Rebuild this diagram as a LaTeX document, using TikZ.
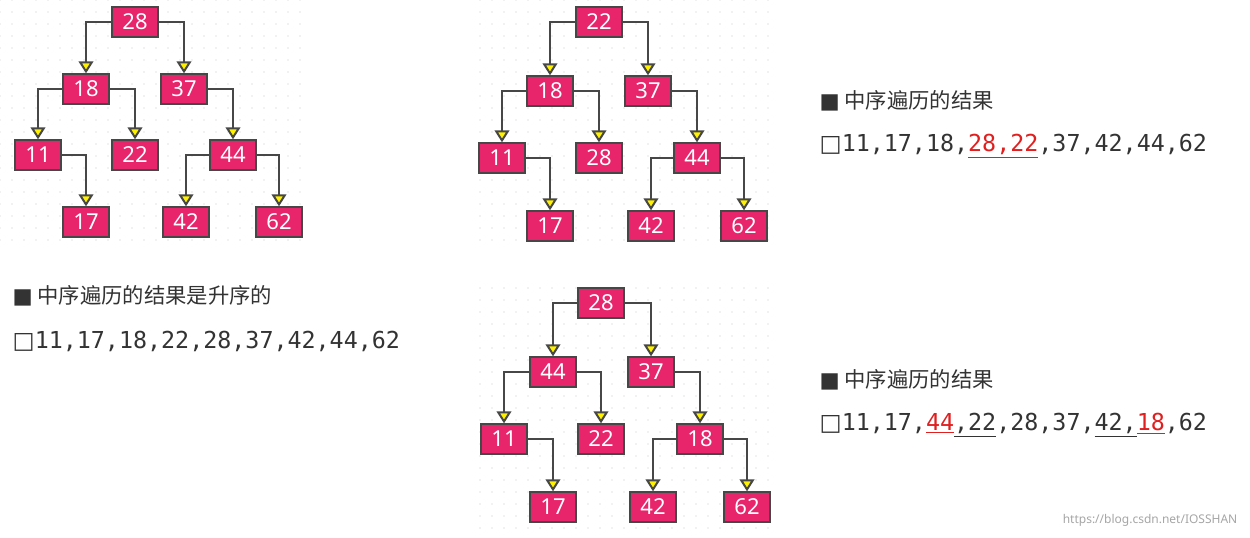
\documentclass[tikz,border=0pt]{standalone}
\usepackage{fontspec}
\setmainfont{Noto Sans}
\setmonofont{DejaVu Sans Mono}
\newfontfamily\cjk{Noto Sans CJK SC}
\usetikzlibrary{arrows.meta}
\definecolor{boxc}{HTML}{E8246A}
\definecolor{txtc}{HTML}{333333}
\definecolor{redc}{HTML}{E02020}
\newcommand\ulc[2]{\textcolor{#1}{\underline{#2}}}
\tikzset{
  bx/.style={draw=txtc!90, line width=1.5pt, fill=boxc, text=white, minimum width=34.5pt, minimum height=22pt, inner sep=0pt, font=\fontsize{16.5}{16.5}\selectfont},
  ed/.style={draw=txtc!90, line width=1.5pt, -{Triangle[fill=yellow, width=11pt, length=9pt]}},
  hd/.style={anchor=west, text=txtc, font=\cjk\fontsize{16}{18}\selectfont},
  sq/.style={anchor=west, text=txtc, font=\ttfamily\fontsize{17.5}{18}\selectfont},
}
\newcommand\dotgrid[4]{\foreach \xx in {#1,...,#2} \foreach \yy in {#3,...,#4} \fill[black!22] (\xx*12,\yy*12) circle (0.5pt);}
\newcommand\osq{{\fontspec{DejaVu Sans}\bfseries □}}
\begin{document}
\begin{tikzpicture}[x=0.75pt,y=-0.75pt]
\useasboundingbox (0,0) rectangle (1250,538);
\fill[white] (0,0) rectangle (1250,538);
\dotgrid{0}{25}{0}{20}
\dotgrid{40}{64}{0}{20}
\dotgrid{40}{64}{24}{44}
% tree 1
\node[bx] (a28) at (135,22) {28};
\node[bx] (a18) at (86,89) {18};
\node[bx] (a37) at (184,89) {37};
\node[bx] (a11) at (38,155) {11};
\node[bx] (a22) at (135,155) {22};
\node[bx] (a44) at (233,155) {44};
\node[bx] (a17) at (86,222) {17};
\node[bx] (a42) at (186,222) {42};
\node[bx] (a62) at (279,222) {62};
\foreach \p/\c in {a28/a18,a18/a11,a44/a42}{\draw[ed] (\p.west) -| (\c.north);}
\foreach \p/\c in {a28/a37,a18/a22,a11/a17,a37/a44,a44/a62}{\draw[ed] (\p.east) -| (\c.north);}
% tree 2
\node[bx] (b22) at (599,22) {22};
\node[bx] (b18) at (550,91) {18};
\node[bx] (b37) at (648,91) {37};
\node[bx] (b11) at (502,158) {11};
\node[bx] (b28) at (599,158) {28};
\node[bx] (b44) at (697,158) {44};
\node[bx] (b17) at (550,226) {17};
\node[bx] (b42) at (651,226) {42};
\node[bx] (b62) at (744,226) {62};
\foreach \p/\c in {b22/b18,b18/b11,b44/b42}{\draw[ed] (\p.west) -| (\c.north);}
\foreach \p/\c in {b22/b37,b18/b28,b11/b17,b37/b44,b44/b62}{\draw[ed] (\p.east) -| (\c.north);}
% tree 3
\node[bx] (c28) at (601,303) {28};
\node[bx] (c44) at (553,372) {44};
\node[bx] (c37) at (651,372) {37};
\node[bx] (c11) at (504,439) {11};
\node[bx] (c22) at (601,439) {22};
\node[bx] (c18) at (700,439) {18};
\node[bx] (c17) at (553,507) {17};
\node[bx] (c42) at (653,507) {42};
\node[bx] (c62) at (747,507) {62};
\foreach \p/\c in {c28/c44,c44/c11,c18/c42}{\draw[ed] (\p.west) -| (\c.north);}
\foreach \p/\c in {c28/c37,c44/c22,c11/c17,c37/c18,c18/c62}{\draw[ed] (\p.east) -| (\c.north);}
% texts
\node[hd] (h1) at (8,296) {{\fontspec{DejaVu Sans}■} 中序遍历的结果是升序的};
\node[sq] (s1) at (8,341) {\osq11,17,18,22,28,37,42,44,62};
\node[hd] (h2) at (815,101) {{\fontspec{DejaVu Sans}■} 中序遍历的结果};
\node[sq] (s2) at (815,146) {\osq11,17,18,\ulc{redc}{28,22},37,42,44,62};
\node[hd] (h3) at (815,380) {{\fontspec{DejaVu Sans}■} 中序遍历的结果};
\node[sq] (s3) at (815,425) {\osq11,17,\ulc{redc}{44}\ulc{txtc}{,22},28,37,\ulc{txtc}{42,}\ulc{redc}{18},62};
\node[anchor=east, text=black!35, font=\fontsize{9}{10}\selectfont] (wm) at (1242,520) {https://blog.csdn.net/IOSSHAN};
\end{tikzpicture}
\end{document}
